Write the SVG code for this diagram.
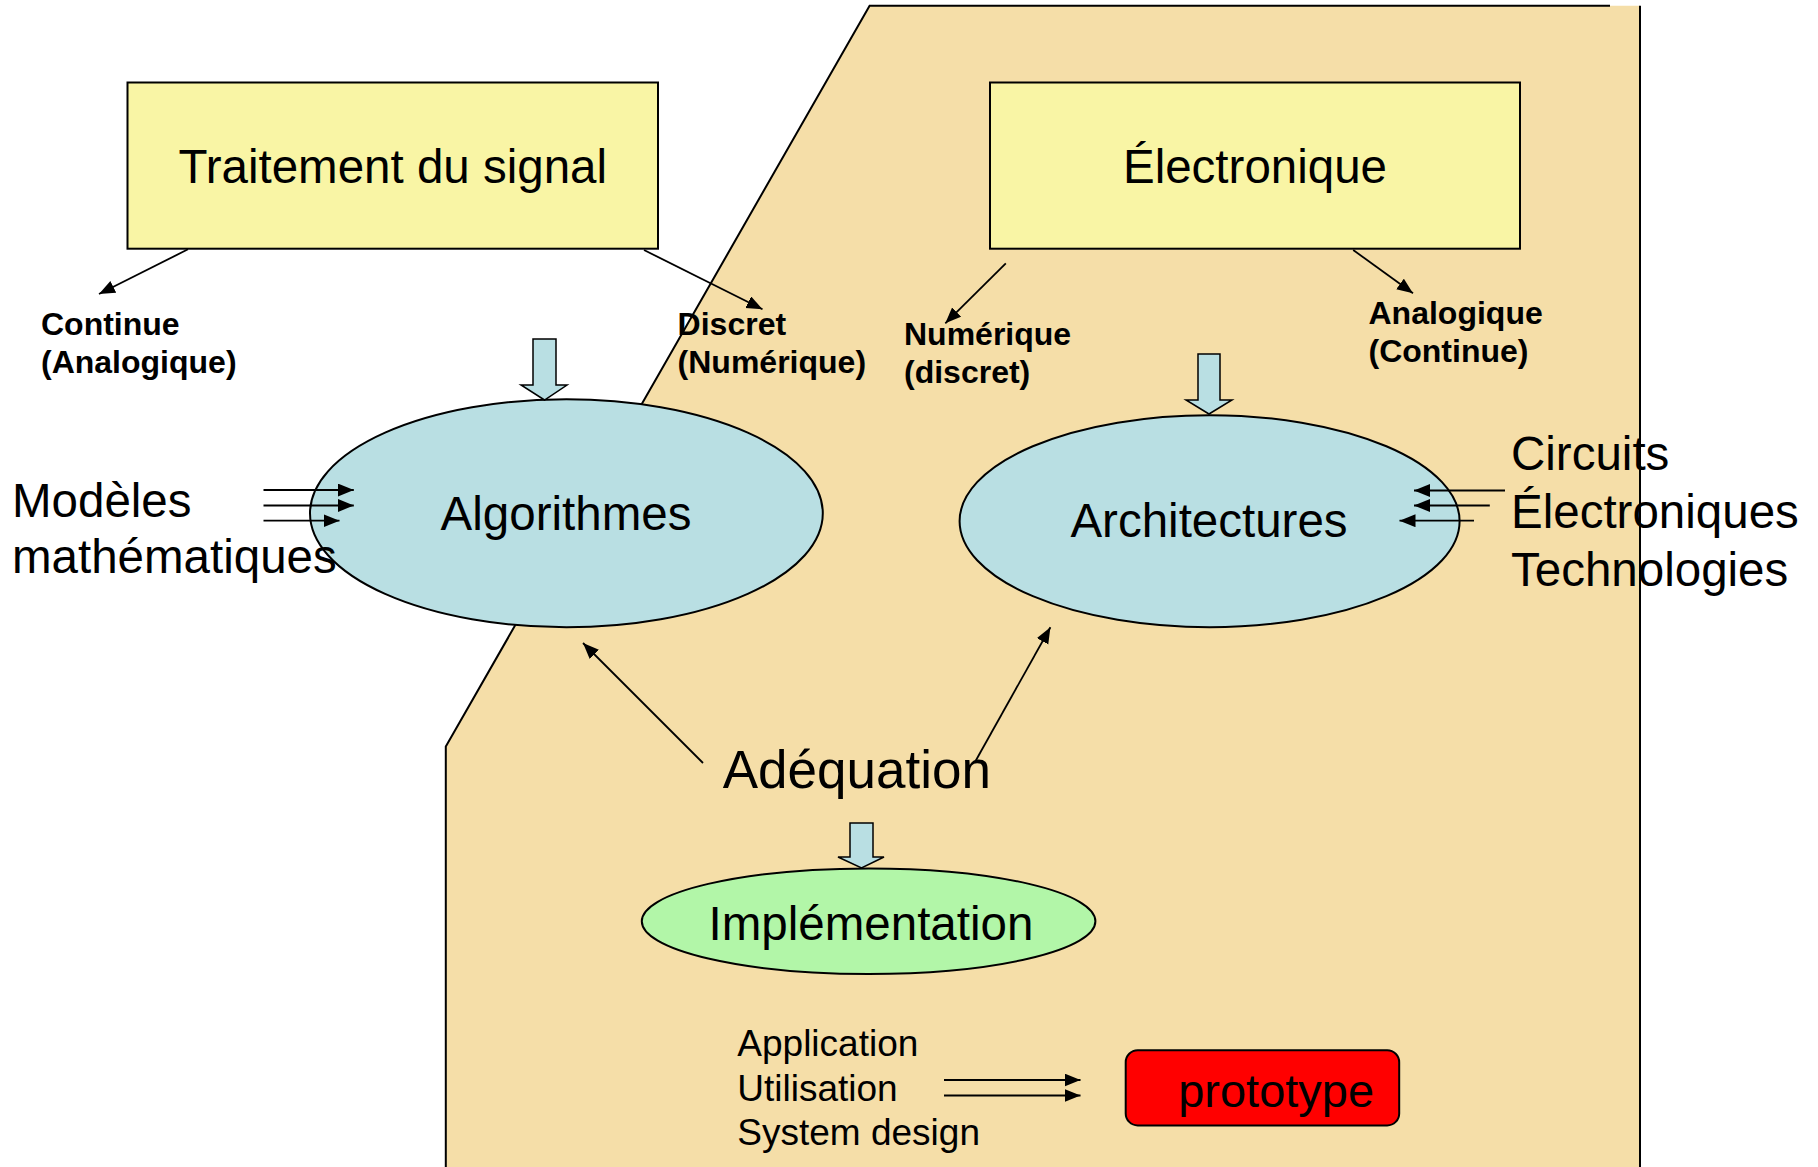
<svg xmlns="http://www.w3.org/2000/svg" width="1818" height="1167" viewBox="0 0 1818 1167">
<style>
  text { font-family: "Liberation Sans", Arial, sans-serif; fill: #000; }
  .big { font-size: 47.5px; }
  .lbl { font-size: 32px; font-weight: bold; }
  .sm { font-size: 37px; }
  .box { fill: #F9F5A5; stroke: #000; stroke-width: 2; }
  .ell { fill: #B9DFE3; stroke: #000; stroke-width: 2; }
  .blk { fill: #B9DFE3; stroke: #000; stroke-width: 1.5; }
  .con { fill: none; stroke: #000; stroke-width: 1.8; }
  .edge { fill: none; stroke: #000; stroke-width: 2; }
</style>
<defs>
  <marker id="ah" markerUnits="userSpaceOnUse" markerWidth="17" markerHeight="14" refX="16" refY="6.5" orient="auto">
    <path d="M0,0 L16,6.5 L0,13 Z" fill="#000"/>
  </marker>
</defs>
<rect width="1818" height="1167" fill="#fff"/>
<g id="background">
  <polygon points="869.6,5.7 1640,5.7 1640,1167 445.8,1167 445.8,746.6" fill="#F5DEA8"/>
  <path class="edge" d="M1610,5.7 H869.6 L445.8,746.6 V1167"/>
  <path class="edge" d="M1640,5.7 V1167"/>
</g>
<g id="traitement">
  <rect class="box" x="127.5" y="82.5" width="530.5" height="166.2"/>
  <text class="big" x="392.75" y="183.3" text-anchor="middle">Traitement du signal</text>
</g>
<g id="electronique">
  <rect class="box" x="990" y="82.5" width="530" height="166.2"/>
  <text class="big" x="1255" y="183.3" text-anchor="middle">Électronique</text>
</g>
<g id="label-continue">
  <text class="lbl" x="41" y="335">Continue</text>
  <text class="lbl" x="41" y="373.3">(Analogique)</text>
</g>
<g id="label-discret">
  <text class="lbl" x="677.6" y="335">Discret</text>
  <text class="lbl" x="677.6" y="373.3">(Numérique)</text>
</g>
<g id="label-numerique">
  <text class="lbl" x="904" y="345">Numérique</text>
  <text class="lbl" x="904" y="383.3">(discret)</text>
</g>
<g id="label-analogique">
  <text class="lbl" x="1368.5" y="323.5">Analogique</text>
  <text class="lbl" x="1368.5" y="361.7">(Continue)</text>
</g>
<g id="algorithmes">
  <ellipse class="ell" cx="566.4" cy="513.3" rx="256.4" ry="114"/>
  <text class="big" x="566" y="530" text-anchor="middle">Algorithmes</text>
</g>
<g id="architectures">
  <ellipse class="ell" cx="1209.6" cy="521.2" rx="250" ry="106"/>
  <text class="big" x="1209" y="537.3" text-anchor="middle">Architectures</text>
</g>
<g id="implementation">
  <ellipse cx="868.6" cy="921.2" rx="226.8" ry="52.8" fill="#B2F6A8" stroke="#000" stroke-width="2"/>
  <text class="big" x="871" y="940" text-anchor="middle">Implémentation</text>
</g>
<g id="modeles">
  <text class="big" x="12" y="516.7">Modèles</text>
  <text class="big" x="12" y="573.3">mathématiques</text>
</g>
<g id="circuits">
  <text class="big" x="1511" y="470">Circuits</text>
  <text class="big" x="1511" y="528.3">Électroniques</text>
  <text class="big" x="1511" y="585.5">Technologies</text>
</g>
<g id="adequation">
  <text x="722.7" y="788.3" font-size="53">Adéquation</text>
</g>
<g id="application">
  <text class="sm" x="737.3" y="1056">Application</text>
  <text class="sm" x="737.3" y="1100.5">Utilisation</text>
  <text class="sm" x="737.3" y="1145">System design</text>
</g>
<g id="prototype">
  <rect x="1125.7" y="1050.2" width="273.5" height="75.2" rx="12" ry="12" fill="#FF0000" stroke="#000" stroke-width="2"/>
  <text x="1178.2" y="1106.7" font-size="47">prototype</text>
</g>
<g id="connectors">
  <line class="con" x1="188" y1="249.3" x2="99" y2="294" marker-end="url(#ah)"/>
  <line class="con" x1="644" y1="250" x2="762.5" y2="309.3" marker-end="url(#ah)"/>
  <line class="con" x1="1005.8" y1="263.3" x2="945.3" y2="323.3" marker-end="url(#ah)"/>
  <line class="con" x1="1353.2" y1="250" x2="1413" y2="293.3" marker-end="url(#ah)"/>
  <path class="blk" d="M533,339 H556 V385 H567 L544.5,400 L521,385 H533 Z"/>
  <path class="blk" d="M1198,354 H1220 V400 H1232 L1209,414 L1186,400 H1198 Z"/>
  <path class="blk" d="M850,823 H873 V857 H884 L861.5,868 L838,857 H850 Z"/>
  <line class="con" x1="263.5" y1="490" x2="353.8" y2="490" marker-end="url(#ah)"/>
  <line class="con" x1="263.5" y1="505.5" x2="353.8" y2="505.5" marker-end="url(#ah)"/>
  <line class="con" x1="263.5" y1="520.7" x2="339.5" y2="520.7" marker-end="url(#ah)"/>
  <line class="con" x1="1505" y1="490.5" x2="1414" y2="490.5" marker-end="url(#ah)"/>
  <line class="con" x1="1489.8" y1="505.5" x2="1414" y2="505.5" marker-end="url(#ah)"/>
  <line class="con" x1="1474" y1="520.7" x2="1399.5" y2="520.7" marker-end="url(#ah)"/>
  <line class="con" x1="703" y1="763" x2="583" y2="643" marker-end="url(#ah)"/>
  <line class="con" x1="975" y1="762" x2="1050.4" y2="627.3" marker-end="url(#ah)"/>
  <line class="con" x1="944" y1="1080" x2="1080.5" y2="1080" marker-end="url(#ah)"/>
  <line class="con" x1="944" y1="1095.5" x2="1080.5" y2="1095.5" marker-end="url(#ah)"/>
</g>
</svg>
